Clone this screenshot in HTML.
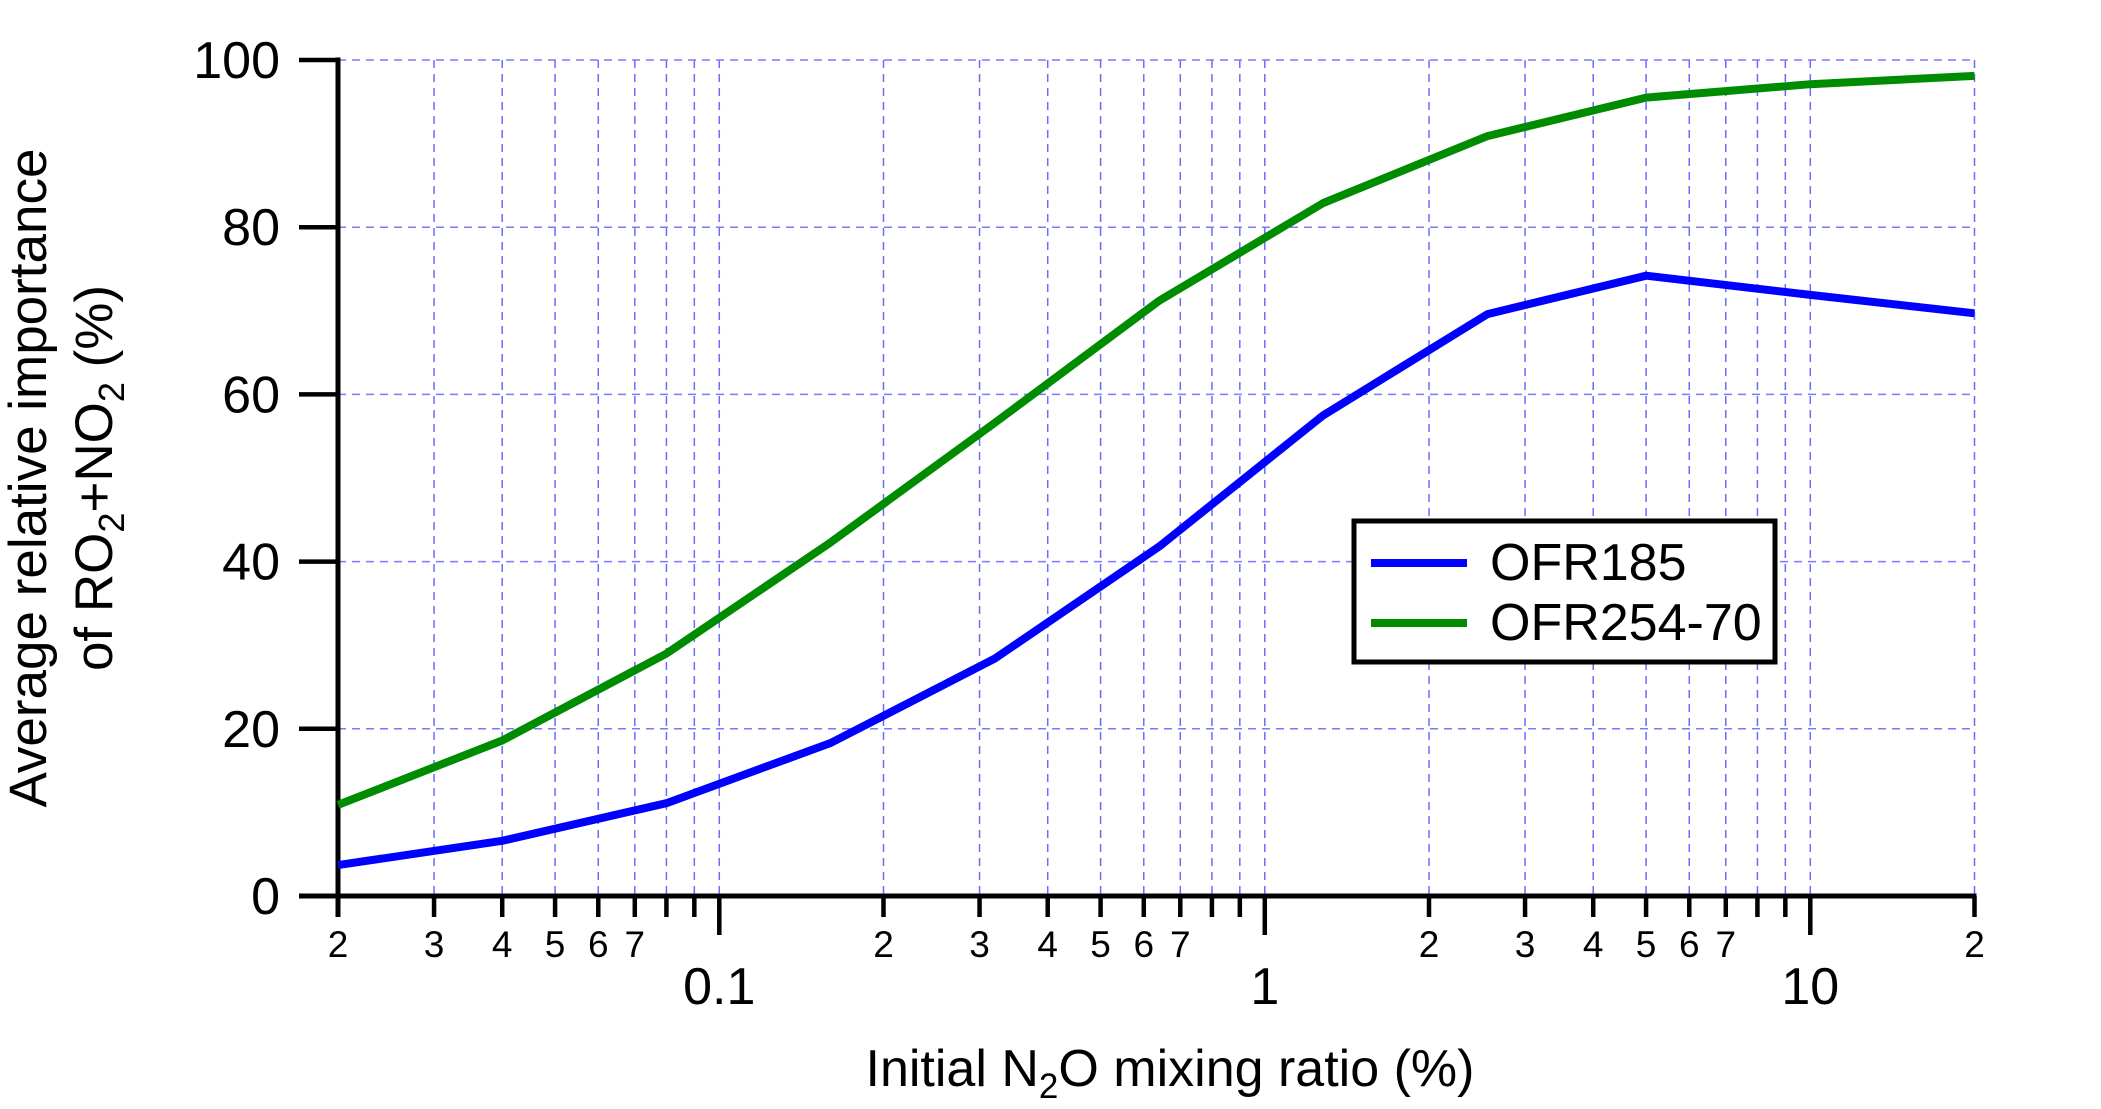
<!DOCTYPE html>
<html><head><meta charset="utf-8"><style>
html,body{margin:0;padding:0;background:#fff;}
svg{display:block;font-family:"Liberation Sans",Arial,sans-serif;}
</style></head><body>
<svg id="chart" width="2101" height="1109" viewBox="0 0 2101 1109" xmlns="http://www.w3.org/2000/svg">
<g id="grid"></g>
<g id="axes"></g>
<g id="series"></g>
<text transform="translate(46,478) rotate(-90)" text-anchor="middle" font-size="53">Average relative importance</text>
<text transform="translate(112,478) rotate(-90)" text-anchor="middle" font-size="53">of RO<tspan font-size="36" dy="12">2</tspan><tspan dy="-12">+NO</tspan><tspan font-size="36" dy="12">2</tspan><tspan dy="-12"> (%)</tspan></text>
<text x="1170" y="1086" text-anchor="middle" font-size="52">Initial N<tspan font-size="35" dy="12">2</tspan><tspan dy="-12">O mixing ratio (%)</tspan></text>
<g>
<rect x="1354" y="521" width="421" height="141" fill="#fff" stroke="#000" stroke-width="5"/>
<line x1="1371" y1="563" x2="1467" y2="563" stroke="#0000ff" stroke-width="8"/>
<text x="1490" y="580" font-size="52">OFR185</text>
<line x1="1371" y1="623" x2="1467" y2="623" stroke="#008c00" stroke-width="8"/>
<text x="1490" y="640" font-size="52">OFR254-70</text>
</g>
</svg>
<script>
const xBlue = [0.02,0.04,0.08,0.16,0.32,0.64,1.28,2.56,5,10,20];
const yBlue = [3.7,6.6,11.1,18.3,28.4,41.8,57.5,69.6,74.2,71.9,69.7];
const xGreen = [0.02,0.04,0.08,0.16,0.32,0.64,1.28,2.56,5,10,20];
const yGreen = [10.9,18.6,29.0,42.3,56.6,71.2,82.9,90.9,95.5,97.1,98.1];
const yTicks = [0,20,40,60,80,100];
const xMajor = [0.1,1,10];
const xMajorLabels = ["0.1","1","10"];

const NS="http://www.w3.org/2000/svg";
const X0=338, DEC=545.5, XMIN=0.02, XMAXV=20;
const Y0=896, Y100=60;
function sx(v){return X0+Math.log10(v/XMIN)*DEC;}
function sy(v){return Y0+(Y100-Y0)*v/100;}
function mk(tag,attrs,parent){const e=document.createElementNS(NS,tag);for(const k in attrs)e.setAttribute(k,attrs[k]);parent.appendChild(e);return e;}
const grid=document.getElementById('grid'),axes=document.getElementById('axes'),series=document.getElementById('series');
const XR=sx(XMAXV);
const minors=[];
for(let d=0.01;d<=10.0001;d*=10){for(let m=1;m<=9;m++){const v=d*m;if(v>=XMIN*0.9999&&v<=XMAXV*1.0001)minors.push(v);}}
minors.forEach(v=>{
  const x=sx(v);
  if(x>X0+2){
    const g=mk('line',{x1:x,y1:Y100,x2:x,y2:Y0,stroke:'#6b6bff','stroke-width':1.5,'stroke-dasharray':'8 6'},grid);
    
    
  }
  const isMajor=xMajor.some(m=>Math.abs(m-v)<1e-9);
  const t=mk('line',{x1:x,y1:Y0,x2:x,y2:Y0+(isMajor?39:21),stroke:'#000','stroke-width':4.5},axes);
  
  
  if(!isMajor){
    const m=Math.round(v/Math.pow(10,Math.floor(Math.log10(v)+1e-9)));
    if(m<=7){
      const l=mk('text',{x:x,y:Y0+61,'text-anchor':'middle','font-size':37},axes);
      l.textContent=String(m);
      
      
    }
  }
});
xMajor.forEach((v,i)=>{
  const l=mk('text',{x:sx(v),y:Y0+108,'text-anchor':'middle','font-size':52},axes);
  l.textContent=xMajorLabels[i];
  
  
});
yTicks.forEach(v=>{
  const y=sy(v);
  if(v>0){
    const g=mk('line',{x1:X0,y1:y,x2:XR,y2:y,stroke:'#7a7aff','stroke-width':1.5,'stroke-dasharray':'8 6'},grid);
    
    
  }
  const t=mk('line',{x1:X0-39,y1:y,x2:X0,y2:y,stroke:'#000','stroke-width':4.5},axes);
  
  
  const l=mk('text',{x:X0-58,y:y+18,'text-anchor':'end','font-size':52},axes);
  l.textContent=String(v);
  
  
});
const xa=mk('line',{x1:X0-39,y1:Y0,x2:XR+2,y2:Y0,stroke:'#000','stroke-width':5},axes);


const ya=mk('line',{x1:X0,y1:Y100-2.5,x2:X0,y2:Y0+21,stroke:'#000','stroke-width':5},axes);


function drawLine(xs,ys,color,name){
  const pts=xs.map((v,i)=>sx(v).toFixed(1)+','+sy(ys[i]).toFixed(1)).join(' ');
  const p=mk('polyline',{points:pts,fill:'none',stroke:color,'stroke-width':8,'stroke-linejoin':'round'},series);
  
  
}
drawLine(xGreen,yGreen,'#008c00','line-ofr254-70');
drawLine(xBlue,yBlue,'#0000ff','line-ofr185');
</script>
</body></html>
